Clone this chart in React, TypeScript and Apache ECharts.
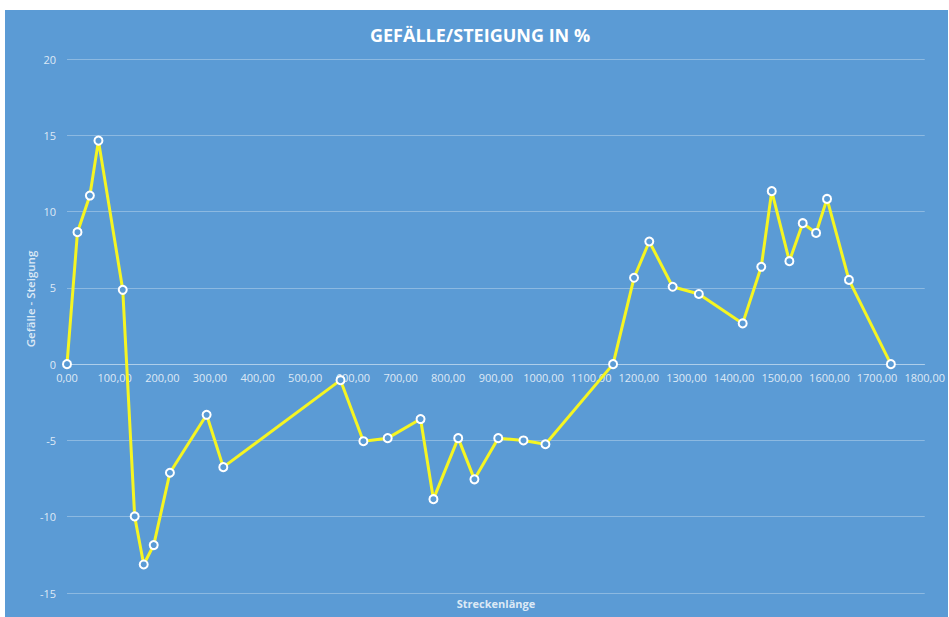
import React, { useEffect, useRef } from "react";
import * as echarts from "echarts";

const distances = [0, 22, 48, 66, 117, 142, 161, 182, 216, 293, 328, 574, 622, 673, 742, 769, 821, 855, 905, 958, 1004, 1146, 1190, 1222, 1271, 1326, 1418, 1457, 1479, 1516, 1544, 1572, 1595, 1641, 1729];
const gradients = [0, 8.65, 11.05, 14.65, 4.87, -9.98, -13.13, -11.86, -7.12, -3.32, -6.75, -1.05, -5.05, -4.85, -3.6, -8.85, -4.85, -7.55, -4.85, -5.0, -5.25, 0, 5.66, 8.04, 5.07, 4.6, 2.67, 6.38, 11.34, 6.75, 9.24, 8.6, 10.83, 5.52, 0];

const titleText = "GEFÄLLE/STEIGUNG IN %";
const xName = "Streckenlänge";
const yName = "Gefälle - Steigung";

const font = "'Open Sans', 'Noto Sans', sans-serif";
const labelColor = "rgba(255,255,255,0.8)";

export default function App() {
  const ref = useRef<HTMLDivElement>(null);
  useEffect(() => {
    if (!ref.current) return;
    const chart = echarts.init(ref.current, null, { renderer: "svg" });
    const data = distances.map((d, i) => [d, gradients[i]]);
    chart.setOption({
      animation: false,
      backgroundColor: "#5B9BD5",
      title: {
        text: titleText,
        left: 360,
        top: 11,
        textStyle: { color: "#FFFFFF", fontFamily: font, fontSize: 18, fontWeight: "bold" },
      },
      grid: { left: 62, right: 22, top: 49, bottom: 24 },
      xAxis: {
        type: "value",
        min: 0,
        max: 1800,
        interval: 100,
        position: "bottom",
        offset: -229,
        axisLine: { onZero: false, lineStyle: { color: "rgba(255,255,255,0.3)", width: 1 } },
        axisTick: { show: false },
        splitLine: { show: false },
        axisLabel: {
          color: labelColor,
          fontFamily: font,
          fontSize: 11,
          margin: 8,
          formatter: (v: number) => v.toFixed(2).replace(".", ","),
        },
      },
      yAxis: {
        type: "value",
        min: -15,
        max: 20,
        interval: 5,
        axisLine: { show: false, onZero: false },
        axisTick: { show: false },
        splitLine: { lineStyle: { color: "rgba(255,255,255,0.3)", width: 1 } },
        axisLabel: { color: labelColor, fontFamily: font, fontSize: 11, margin: 11 },
      },
      graphic: [
        {
          type: "text",
          x: 25,
          y: 289,
          rotation: Math.PI / 2,
          style: {
            text: yName,
            fill: labelColor,
            font: `600 11.5px ${font}`,
            align: "center",
            verticalAlign: "middle",
          },
        },
        {
          type: "text",
          x: 491,
          y: 593,
          style: {
            text: xName,
            fill: labelColor,
            font: `bold 11px ${font}`,
            align: "center",
            verticalAlign: "middle",
          },
        },
      ],
      series: [
        {
          type: "line",
          data,
          lineStyle: { color: "#F5F522", width: 3 },
          symbol: "circle",
          symbolSize: 8,
          itemStyle: { color: "#5B9BD5", borderColor: "#FFFFFF", borderWidth: 2 },
          z: 3,
        },
      ],
    });
    return () => chart.dispose();
  }, []);
  return (
    <div style={{ position: "fixed", left: 0, top: 0, width: 949, height: 617, background: "#FFFFFF" }}>
      <div ref={ref} style={{ position: "absolute", left: 5, top: 10, width: 943, height: 607 }} />
    </div>
  );
}
